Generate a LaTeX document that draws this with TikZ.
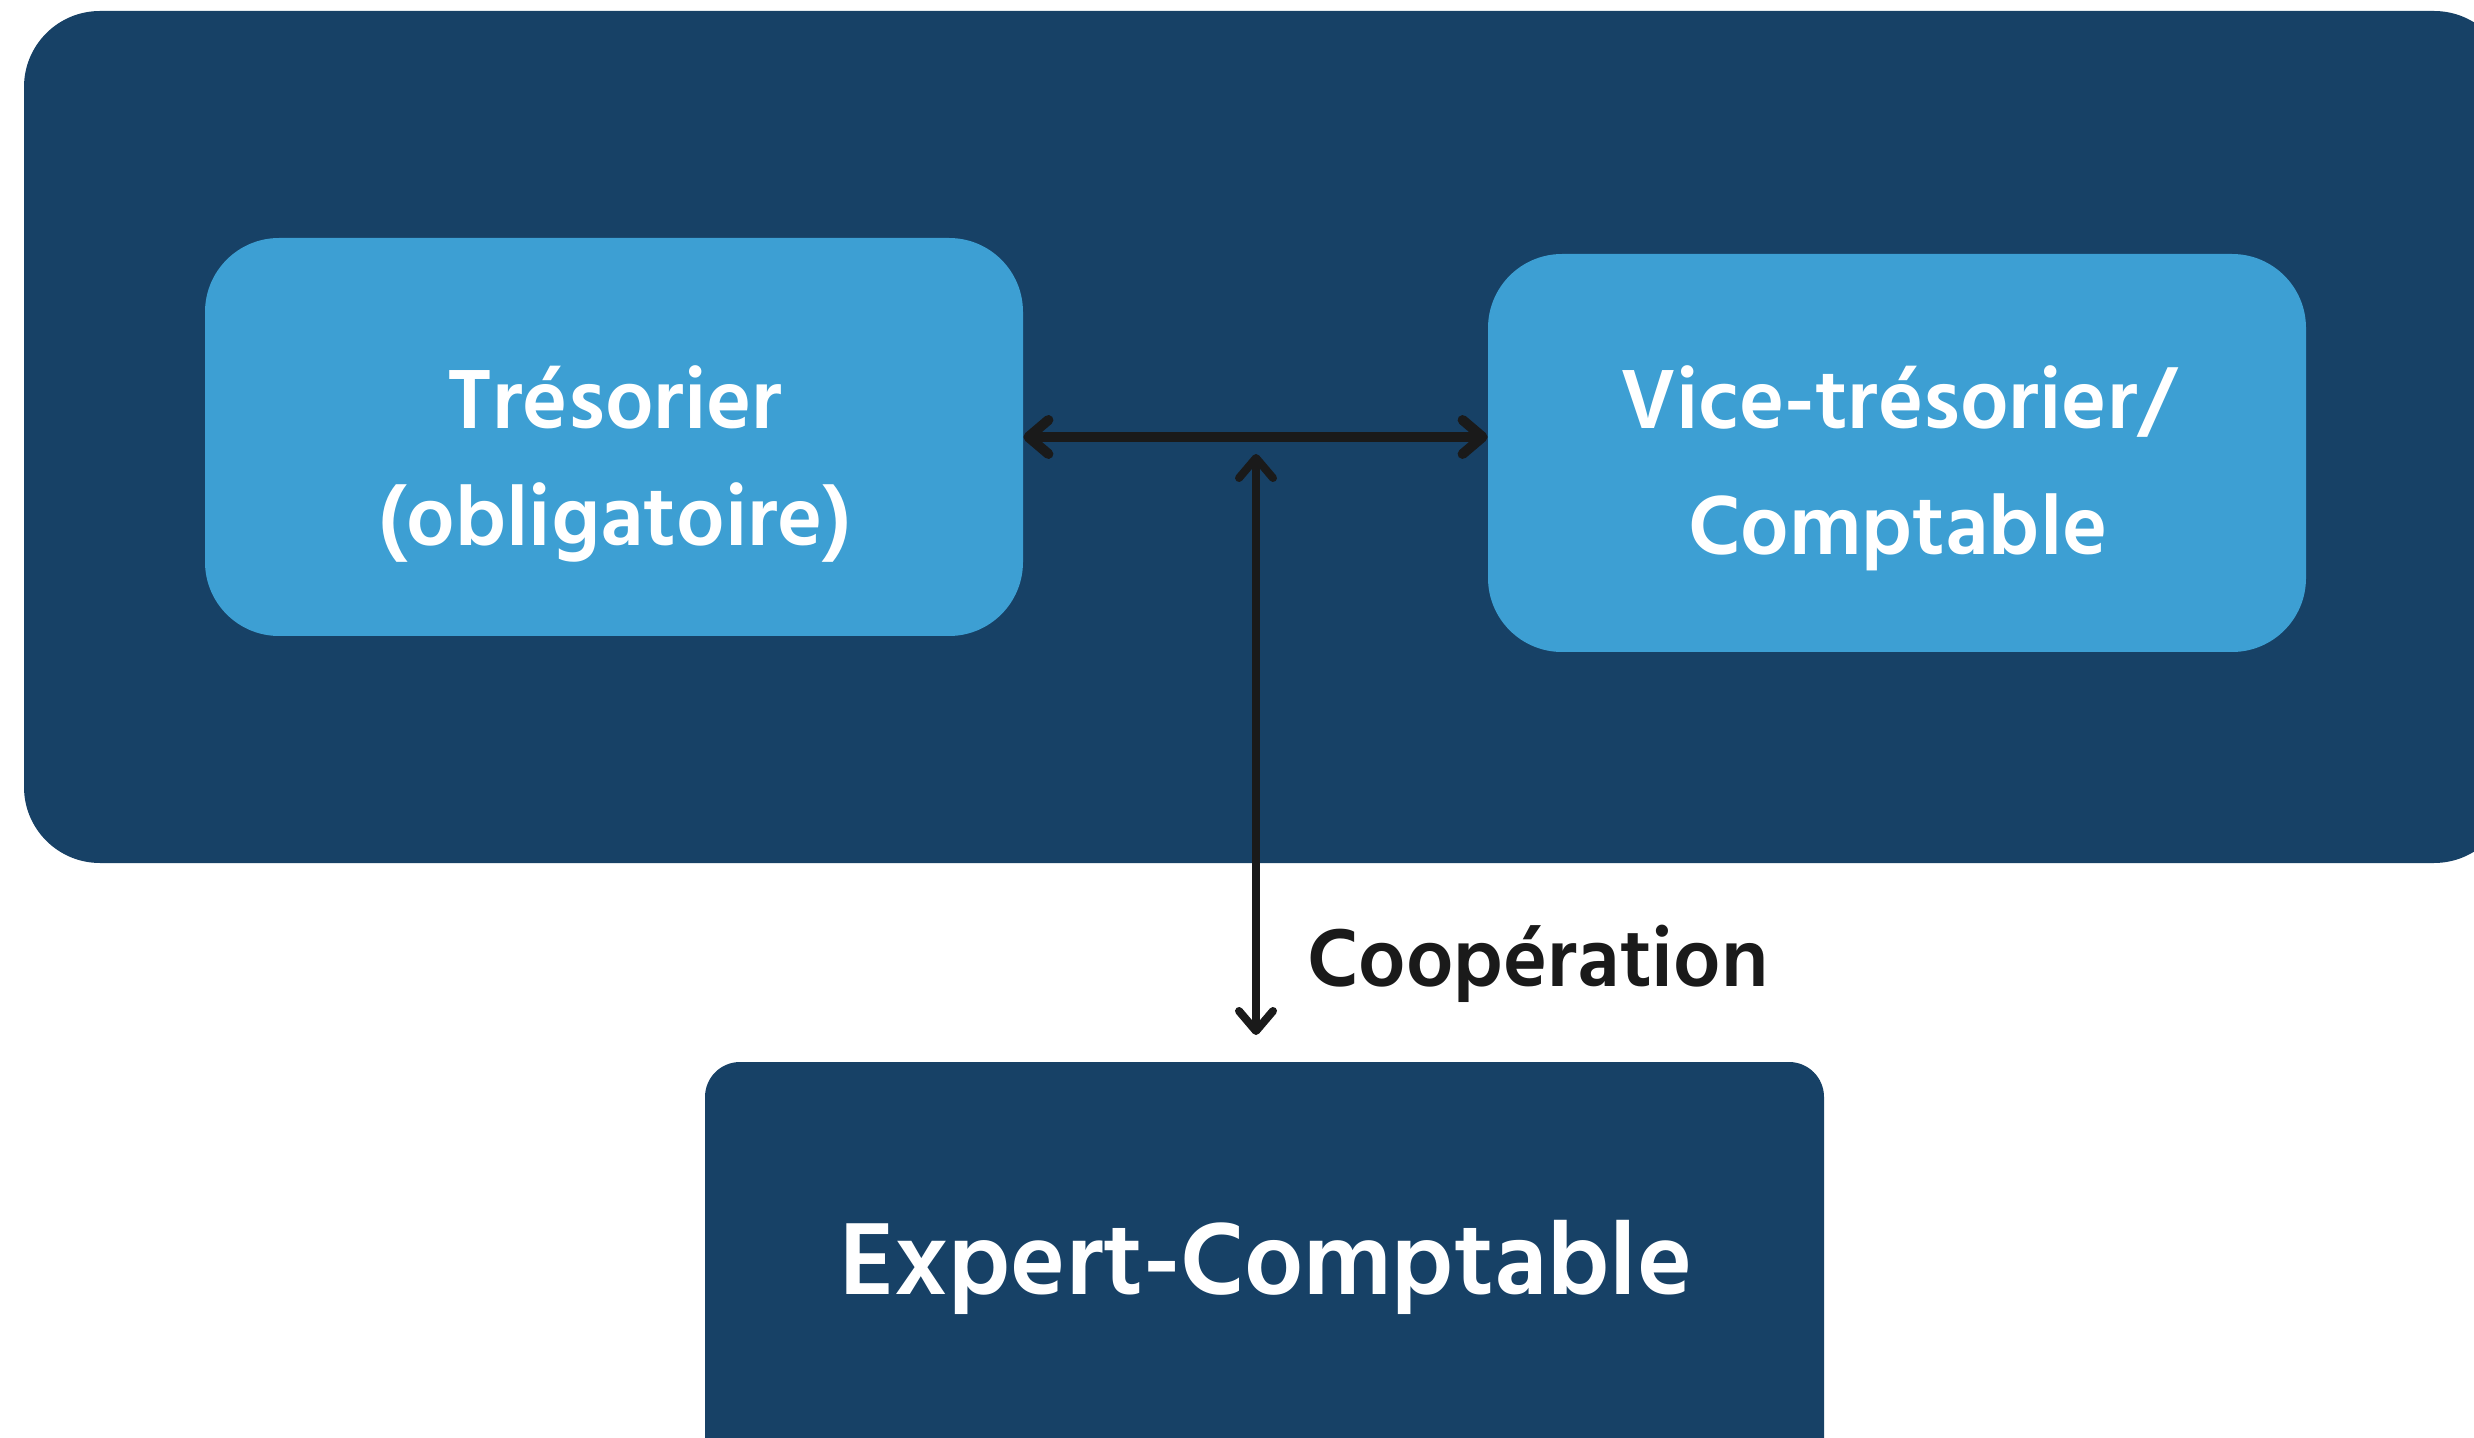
\documentclass[tikz,border=0pt]{standalone}
\usepackage{fontspec}
\setmainfont{Hind Madurai}
\usetikzlibrary{arrows.meta}
\definecolor{navy}{HTML}{174166}
\definecolor{sky}{HTML}{3D9FD3}
\definecolor{ink}{HTML}{1A1A1A}
\tikzset{
  x=0.5pt, y=-0.5pt,
  barbtip/.tip={Straight Barb[length=10pt, width=17pt, line cap=round, line join=round]},
  panel/.style={fill=navy, draw=none, rounded corners=38pt, minimum width=1243pt, minimum height=426pt, inner sep=0pt},
  rolebox/.style={fill=sky, draw=none, rounded corners=37pt, minimum width=409pt, minimum height=199pt, inner sep=0pt},
  expbox/.style={fill=navy, draw=none, rounded corners=17.5pt, minimum width=559.5pt, minimum height=210pt, inner sep=0pt},
  roletext/.style={text=white, font=\fontsize{43}{58.5}\selectfont\bfseries, align=center, inner sep=0pt},
  harrow/.style={draw=ink, line width=5pt, {barbtip}-{barbtip}},
  varrow/.style={draw=ink, line width=4pt, {barbtip}-{barbtip}},
}
\begin{document}
\begin{tikzpicture}
\useasboundingbox (0,0) rectangle (2474,1438);
\fill[white] (0,0) rectangle (2474,1438);
\node[panel] (outer) at (1267,437) {};
\node[rolebox] (tres) at (614,437) {};
\node[rolebox] (vice) at (1897,453) {};
\node[expbox] (exp) at (1264.5,1272) {};
\node[roletext] (tresl) at (615,464) {Trésorier\\(obligatoire)};
\node[roletext, font=\fontsize{43}{63}\selectfont\bfseries] (vicel) at (1898,468) {Vice-trésorier/\\Comptable};
\node[text=white, font=\fontsize{52.5}{60}\selectfont\bfseries, inner sep=0pt] (expl) at (1266,1267) {Expert-Comptable};
\coordinate (vtop) at (1256,454);
\coordinate (vbot) at (1256,1035);
\draw[harrow] (tres.east) -- (tres.east -| vice.west);
\draw[varrow] (vtop) -- (vbot);
\node[text=ink, font=\fontsize{42}{46}\selectfont\bfseries, inner sep=0pt, anchor=west] (coop) at (1307,964) {Coopération};
\end{tikzpicture}
\end{document}
